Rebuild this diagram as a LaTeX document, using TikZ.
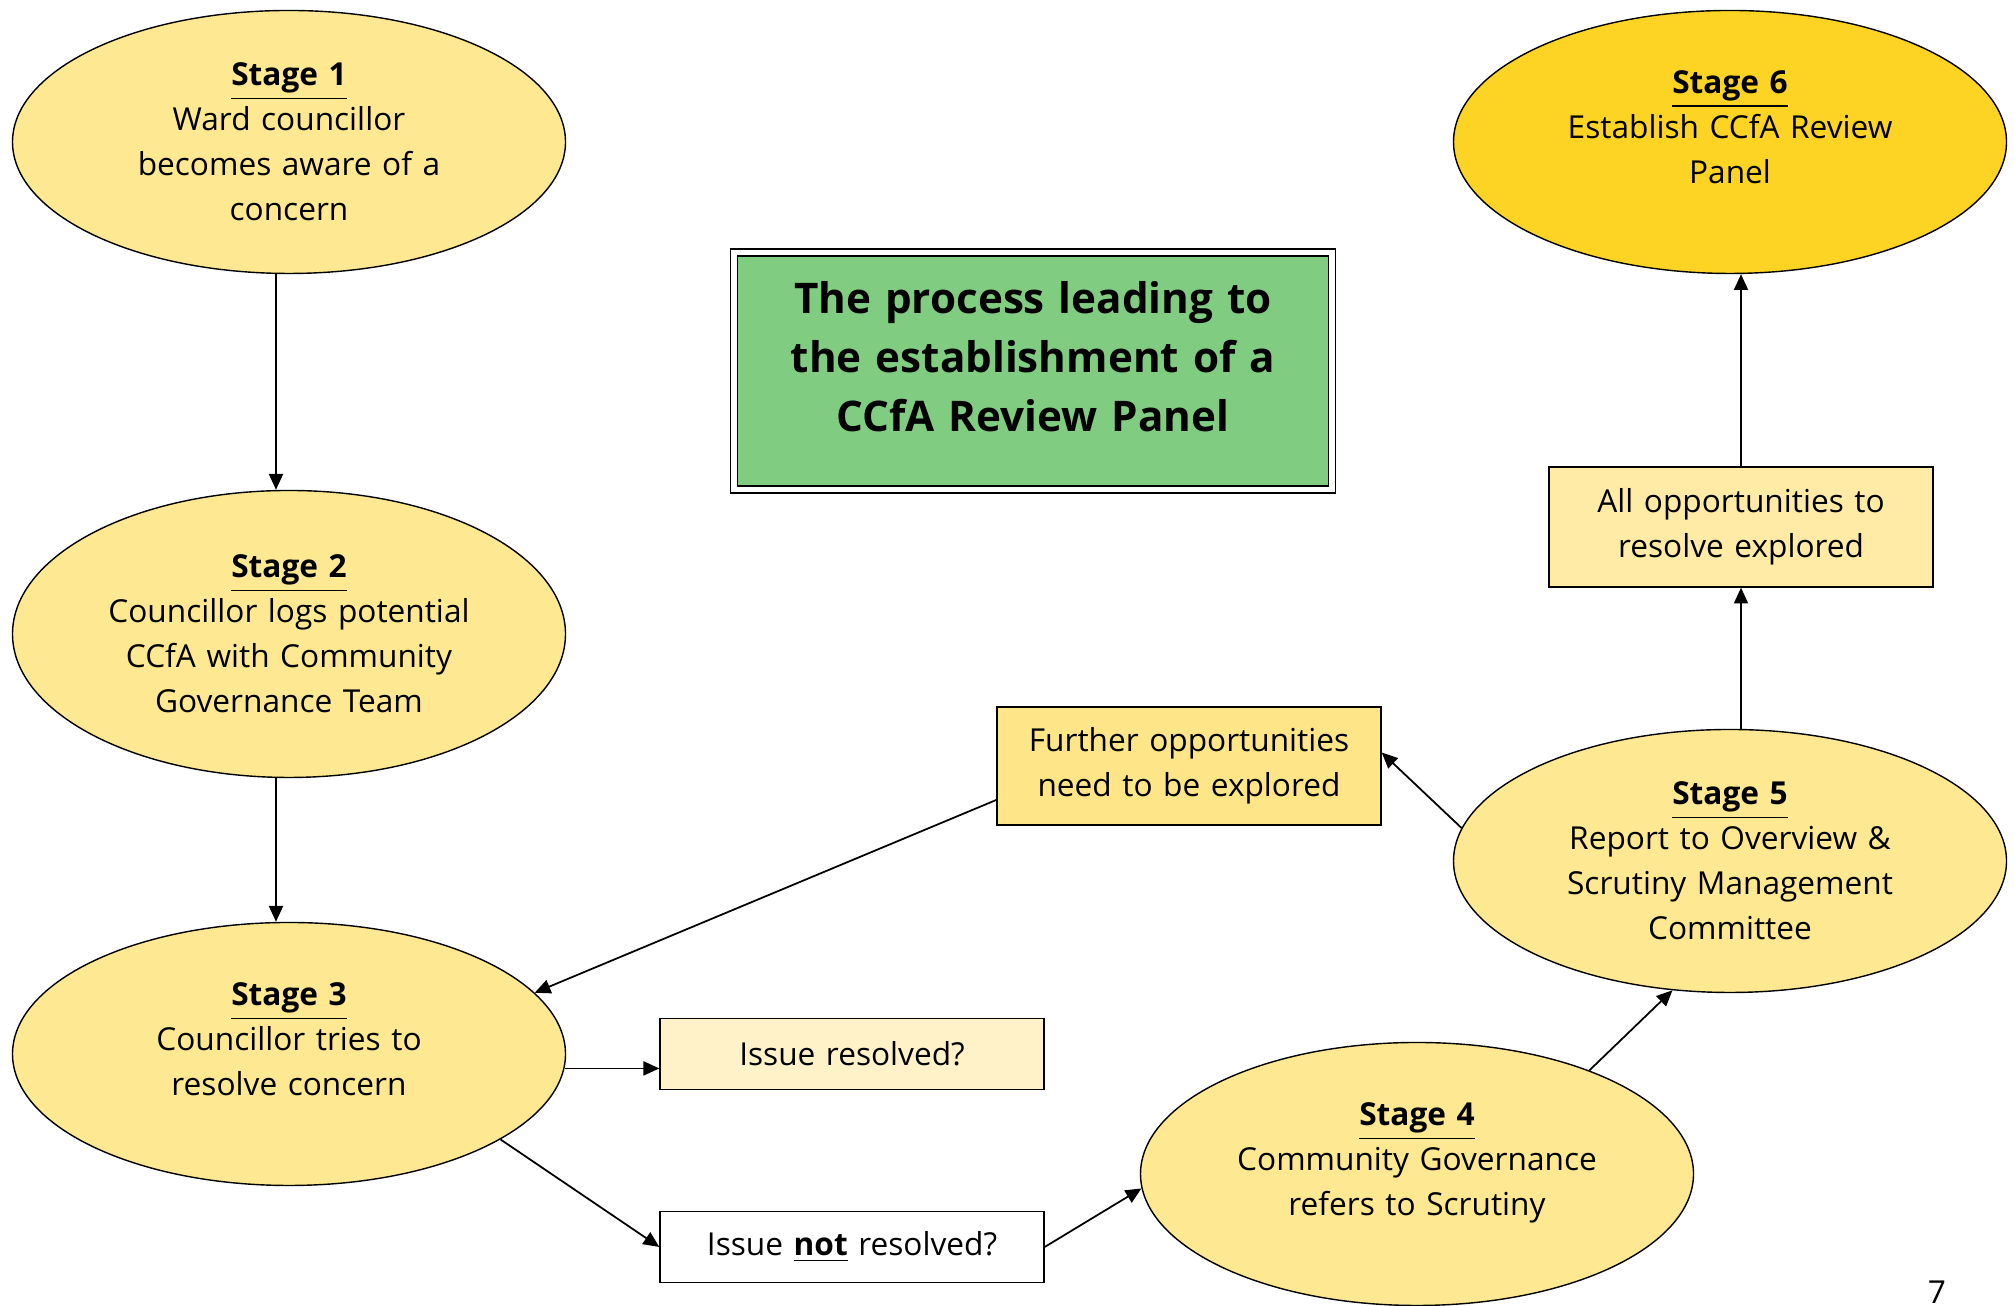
\documentclass[tikz,border=0pt]{standalone}
\usepackage{fontspec}
\setmainfont{Open Sans}
\usetikzlibrary{shapes.geometric,arrows.meta}
\definecolor{stageyellow}{RGB}{254,232,145}
\definecolor{stagegold}{RGB}{253,212,35}
\definecolor{titlegreen}{RGB}{128,204,128}
\definecolor{boxpale}{RGB}{255,235,166}
\definecolor{boxyellow}{RGB}{254,229,135}
\definecolor{boxcream}{RGB}{255,242,200}

\begin{document}
\begin{tikzpicture}[
        stage/.style={ellipse, draw, fill=stageyellow, minimum width=5.53cm,
            minimum height=2.63cm, inner sep=0pt, text width=3.9cm, align=center,
            font=\fontsize{9}{12.8}\selectfont},
        raised/.style={text depth=34pt},
        notebox/.style={rectangle, draw, minimum width=3.84cm, inner sep=0pt,
            text width=3.7cm, align=center, font=\fontsize{9}{12.8}\selectfont},
        arr/.style={-{Triangle[length=4.5pt,width=4pt]}, line width=0.5pt}
    ]
        \useasboundingbox (0,0) rectangle (20.15,13.06);

        % Stage 1
        \node[stage] (s1) at (2.89,11.64) {\underline{\textbf{Stage 1}}\\Ward councillor\\becomes aware of a\\concern};

        % Stage 2
        \node[stage, minimum height=2.87cm] (s2) at (2.89,6.72) {\underline{\textbf{Stage 2}}\\Councillor logs potential\\CCfA with Community\\Governance Team};

        % Stage 3
        \node[stage, raised] (s3) at (2.89,2.52) {\underline{\textbf{Stage 3}}\\Councillor tries to\\resolve concern};

        % Stage 4
        \node[stage, raised] (s4) at (14.17,1.32) {\underline{\textbf{Stage 4}}\\Community Governance\\refers to Scrutiny};

        % Stage 5
        \node[stage] (s5) at (17.30,4.45) {\underline{\textbf{Stage 5}}\\Report to Overview \&\\Scrutiny Management\\Committee};

        % Stage 6
        \node[stage, raised, fill=stagegold] (s6) at (17.30,11.64) {\underline{\textbf{Stage 6}}\\Establish CCfA Review\\Panel};

        % title
        \node[draw, double, double distance=1.6pt, fill=titlegreen, minimum width=5.98cm,
            minimum height=2.37cm, text width=5.6cm, align=center, text depth=42pt,
            font=\fontsize{12}{16.8}\selectfont\bfseries] (title) at (10.33,9.35)
            {The process leading to\\the establishment of a\\CCfA Review Panel};

        % boxes
        \node[notebox, fill=boxpale, minimum height=1.20cm] (all) at (17.41,7.79) {All opportunities to\\resolve explored};
        \node[notebox, fill=boxyellow, minimum height=1.18cm] (fur) at (11.89,5.40) {Further opportunities\\need to be explored};
        \node[notebox, fill=boxcream, minimum height=0.71cm] (res) at (8.52,2.52) {Issue resolved?};
        \node[notebox, fill=white, minimum height=0.71cm] (nres) at (8.52,0.59) {Issue \underline{\textbf{not}} resolved?};

        % page number
        \node[font=\fontsize{9}{11}\selectfont] (page) at (19.37,0.14) {7};

        % arrows
        \draw[arr] ([xshift=-0.13cm]s1.south) -- ([xshift=-0.13cm]s2.north);
        \draw[arr] ([xshift=-0.13cm]s2.south) -- ([xshift=-0.13cm]s3.north);
        \draw[arr] (s3.-3) -- (s3.-3 -| res.west);
        \draw[arr] (s3.-22) -- (nres.west);
        \draw[arr] (nres.east) -- (s4.183);
        \draw[arr] (s4.31) -- (s5.246);
        \draw[arr] (s5.173) -- (fur.4);
        \draw[arr] (fur.190) -- (s3.14);
        \draw[arr] (all.south |- s5.north) -- (all.south);
        \draw[arr] (all.north) -- (all.north |- s6.south);

    \end{tikzpicture}
\end{document}
